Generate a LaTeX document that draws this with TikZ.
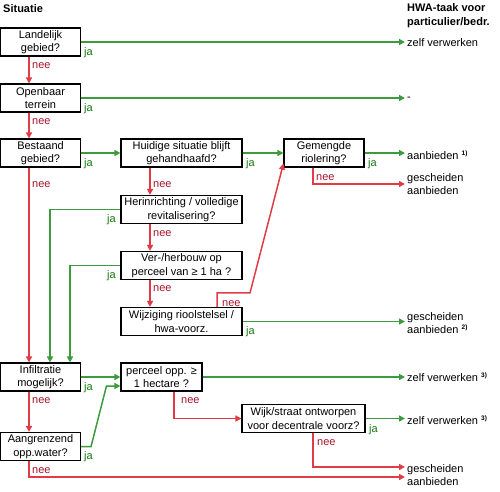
\documentclass[tikz,border=0pt]{standalone}
\usepackage{fontspec}
\setmainfont{Liberation Sans}
\usetikzlibrary{arrows.meta}
\definecolor{jagreen}{RGB}{60,155,60}
\definecolor{neered}{RGB}{225,60,70}
\definecolor{jatext}{RGB}{20,120,20}
\definecolor{neetext}{RGB}{165,20,40}
\newcommand{\voetnoot}[1]{\raisebox{4pt}{\fontsize{6.5}{7}\selectfont\bfseries #1)}}

\begin{document}
\begin{tikzpicture}[
  x=1pt,y=-1pt,
  every node/.style={font=\fontsize{11}{13.5}\selectfont},
  box/.style={draw, line width=1.1pt, fill=white, align=center, minimum height=28pt, inner sep=1pt},
  yes/.style={jagreen, line width=1.5pt, -{Triangle[length=6pt,width=6pt]}},
  no/.style={neered, line width=1.5pt, -{Triangle[length=6pt,width=6pt]}},
  jalabel/.style={anchor=base west, inner sep=0pt, text=jatext},
  neelabel/.style={anchor=base west, inner sep=0pt, text=neetext},
  uitkomst/.style={anchor=west, inner sep=2pt, align=left}
]
\useasboundingbox (0,0) rectangle (500,491);

\node[anchor=base west, inner sep=0pt, font=\bfseries\fontsize{11}{13.5}\selectfont] (situatie) at (3,12) {Situatie};
\node[anchor=north west, inner sep=0pt, align=left, font=\bfseries\fontsize{11}{14}\selectfont] (hwa) at (407,3) {HWA-taak voor\\particulier/bedr.};

% vragen
\node[box, minimum width=80pt] (land) at (40.5,42) {Landelijk\\gebied?};
\node[box, minimum width=80pt] (open) at (40.5,98) {Openbaar\\terrein};
\node[box, minimum width=80pt] (best) at (40.5,153) {Bestaand\\gebied?};
\node[box, minimum width=121pt] (huid) at (181.5,153) {Huidige situatie blijft\\gehandhaafd?};
\node[box, minimum width=80pt] (gem) at (324,153) {Gemengde\\riolering?};
\node[box, minimum width=121pt] (her) at (181.5,209.5) {Herinrichting / volledige\\revitalisering?};
\node[box, minimum width=121pt] (ver) at (181.5,265.5) {Ver-/herbouw op\\perceel van ≥ 1 ha ?};
\node[box, minimum width=121pt] (wijz) at (181.5,321.5) {Wijziging rioolstelsel /\\hwa-voorz.};
\node[box, minimum width=80pt] (inf) at (40.5,377) {Infiltratie\\mogelijk?};
\node[box, minimum width=81pt] (perc) at (161.5,377) {perceel opp. ≥\\1 hectare ?};
\node[box, minimum width=80pt] (aan) at (40.5,446.5) {Aangrenzend\\opp.water?};
\node[box, minimum width=123pt] (wijk) at (303.5,418.5) {Wijk/straat ontworpen\\voor decentrale voorz?};

% uitkomsten
\node[uitkomst] (zelf1) at (405,43) {zelf verwerken};
\node[uitkomst] (streep) at (405,99) {-};
\node[uitkomst] (aanb1) at (405,155) {aanbieden \voetnoot{1}};
\node[uitkomst] (gesch1) at (405,184) {gescheiden\\aanbieden};
\node[uitkomst] (gesch2) at (405,323) {gescheiden\\aanbieden \voetnoot{2}};
\node[uitkomst] (zelf2) at (405,377) {zelf verwerken \voetnoot{3}};
\node[uitkomst] (zelf3) at (405,420) {zelf verwerken \voetnoot{3}};
\node[uitkomst] (gesch3) at (405,475) {gescheiden\\aanbieden};

% ja
\draw[yes] (land.east) -- (land.east -| zelf1.west);
\draw[yes] (open.east) -- (open.east -| streep.west);
\draw[yes] (best.east) -- (huid.west);
\draw[yes] (huid.east) -- (gem.west);
\draw[yes] (gem.east) -- (gem.east -| aanb1.west);
\draw[yes] (her.west) -| ([xshift=9.5pt]inf.north);
\draw[yes] (ver.west) -| ([xshift=29.5pt]inf.north);
\draw[yes] (wijz.east) -- (wijz.east -| gesch2.west);
\draw[yes] (inf.east) -- (perc.west);
\draw[yes] (aan.east) -- ++(10,0) -- ([xshift=-14pt,yshift=-9pt]perc.west) -- ([yshift=-9pt]perc.west);
\draw[yes] (perc.east) -- (perc.east -| zelf2.west);
\draw[yes] (wijk.east) -- (wijk.east -| zelf3.west);

% nee
\draw[no] ([xshift=-11.5pt]land.south) -- ([xshift=-11.5pt]open.north);
\draw[no] ([xshift=-11.5pt]open.south) -- ([xshift=-11.5pt]best.north);
\draw[no] ([xshift=-11.5pt]best.south) -- ([xshift=-11.5pt]inf.north);
\draw[no] ([xshift=-31.5pt]huid.south) -- ([xshift=-31.5pt]her.north);
\draw[no] ([xshift=-31.5pt]her.south) -- ([xshift=-31.5pt]ver.north);
\draw[no] ([xshift=-31.5pt]ver.south) -- ([xshift=-31.5pt]wijz.north);
\draw[no] ([xshift=-11pt]gem.south) |- (gesch1.west);
\draw[no] ([xshift=35.5pt]wijz.north) -- ++(0,-14) -- ++(33,0) -- ([yshift=4pt]gem.south west);
\draw[no] ([xshift=-11.5pt]inf.south) -- ([xshift=-11.5pt]aan.north);
\draw[no] ([xshift=12.5pt]perc.south) |- (wijk.west);
\draw[no] ([xshift=9.5pt]wijk.south) |- ([yshift=8pt]gesch3.west);
\draw[no] ([xshift=-11.5pt]aan.south) |- ([yshift=-2pt]gesch3.west);

% labels
\node[jalabel] (ja1) at (84,55) {ja};
\node[jalabel] (ja2) at (84,111) {ja};
\node[jalabel] (ja3) at (84,166) {ja};
\node[jalabel] (ja4) at (246,166) {ja};
\node[jalabel] (ja5) at (368,166) {ja};
\node[jalabel] (ja6) at (107,222) {ja};
\node[jalabel] (ja7) at (107,278) {ja};
\node[jalabel] (ja8) at (246,334) {ja};
\node[jalabel] (ja9) at (84,390) {ja};
\node[jalabel] (ja10) at (84,459) {ja};
\node[jalabel] (ja11) at (369,432) {ja};
\node[neelabel] (nee1) at (32,68) {nee};
\node[neelabel] (nee2) at (32,124) {nee};
\node[neelabel] (nee3) at (32,187) {nee};
\node[neelabel] (nee4) at (153,187) {nee};
\node[neelabel] (nee5) at (316,180) {nee};
\node[neelabel] (nee6) at (153,236) {nee};
\node[neelabel] (nee7) at (153,291) {nee};
\node[neelabel] (nee8) at (222,306) {nee};
\node[neelabel] (nee9) at (32,403) {nee};
\node[neelabel] (nee10) at (181,403) {nee};
\node[neelabel] (nee11) at (32,473) {nee};
\node[neelabel] (nee12) at (317,445) {nee};
\end{tikzpicture}
\end{document}
